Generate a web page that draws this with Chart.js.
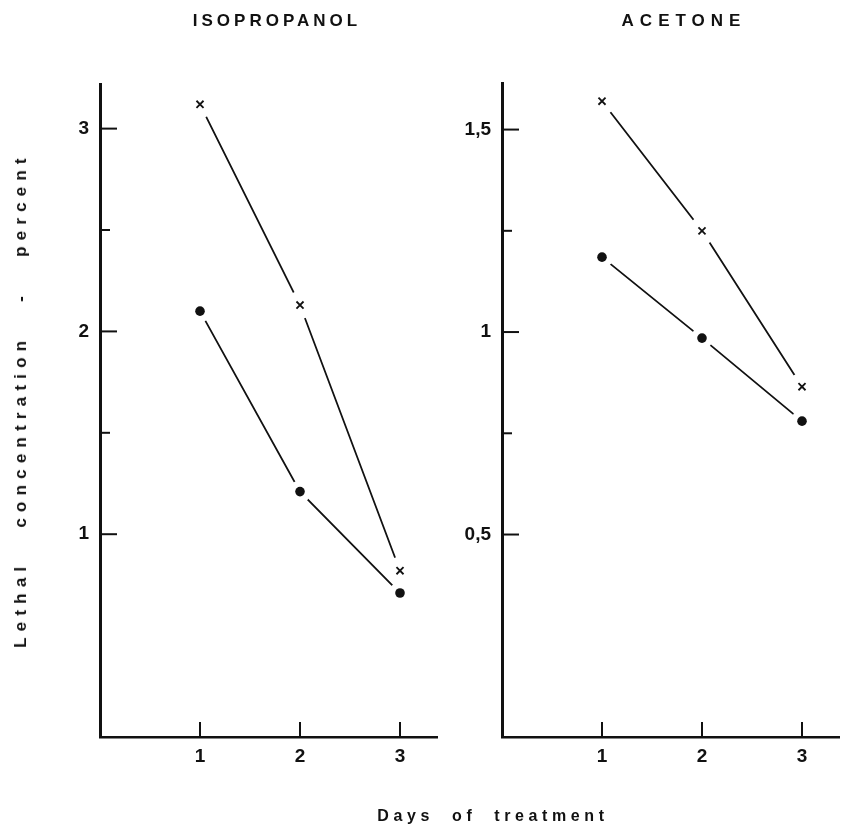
<!DOCTYPE html>
<html>
<head>
<meta charset="utf-8">
<script src="https://cdn.jsdelivr.net/npm/chart.js@4.4.1/dist/chart.umd.min.js"></script>
<style>
  body { margin: 0; background: #fff; }
  #page { position: relative; width: 841px; height: 829px; overflow: hidden; background: #fff;
          font-family: "Liberation Sans", Arial, sans-serif; font-weight: bold; color: #111; }
  canvas { position: absolute; top: 0; }
  #leftCanvas { left: 0; }
  #rightCanvas { left: 450px; }
  .txt { position: absolute; white-space: nowrap; transform: translate(-50%, -50%); }
  .ttl { font-size: 17px; letter-spacing: 4px; }
  #t2 { letter-spacing: 6px; }
  #ylab { font-size: 17px; letter-spacing: 6.2px; word-spacing: 22px; transform: translate(-50%, -50%) rotate(-90deg); }
  #xlab { font-size: 16px; letter-spacing: 4.6px; word-spacing: 9px; }
</style>
</head>
<body>
<div id="page">
  <canvas id="leftCanvas" width="450" height="829"></canvas>
  <canvas id="rightCanvas" width="391" height="829"></canvas>
  <div class="txt ttl" id="t1" style="left:277px;top:21px">ISOPROPANOL</div>
  <div class="txt ttl" id="t2" style="left:684px;top:21px">ACETONE</div>
  <div class="txt" id="ylab" style="left:21px;top:400px">Lethal concentration - percent</div>
  <div class="txt" id="xlab" style="left:493px;top:816px">Days of treatment</div>
</div>
<script>
// data
const days = [1, 2, 3];
const isoCross = [3.12, 2.13, 0.82];
const isoDot = [2.10, 1.21, 0.71];
const aceCross = [1.57, 1.25, 0.865];
const aceDot = [1.185, 0.985, 0.78];

const xTicks = [1, 2, 3];
const isoYTicks = [1, 1.5, 2, 2.5, 3];
const isoYLabels = [1, 2, 3];
const aceYTicks = [0.5, 0.75, 1, 1.25, 1.5];
const aceYLabels = [0.5, 1, 1.5];

const ink = '#111';
const tickFont = { family: '"Liberation Sans Narrow", "Liberation Sans", Arial, sans-serif', size: 19, weight: 'bold' };

function pts(vals) {
    return days.map((d, i) => ({ x: d, y: vals[i] }));
}

// tick marks drawn inside the plot, labelled ones longer
const innerTicks = {
    id: 'innerTicks',
    afterDraw(chart) {
        const ctx = chart.ctx, a = chart.chartArea;
        const xs = chart.scales.x, ys = chart.scales.y;
        ctx.save();
        ctx.strokeStyle = ink;
        ctx.lineWidth = 2;
        ys.ticks.forEach(t => {
            const py = ys.getPixelForValue(t.value);
            const len = t.label ? 17 : 10;
            ctx.beginPath();
            ctx.moveTo(a.left, py);
            ctx.lineTo(a.left + len, py);
            ctx.stroke();
        });
        xs.ticks.forEach(t => {
            const px = xs.getPixelForValue(t.value);
            ctx.beginPath();
            ctx.moveTo(px, a.bottom);
            ctx.lineTo(px, a.bottom - 15);
            ctx.stroke();
        });
        ctx.restore();
    }
};

function makeChart(id, crossVals, dotVals, yTicks, yLabels, yMax, pad, yWidth) {
    const lineDs = (vals) => ({
        data: pts(vals), borderColor: ink, borderWidth: 1.8,
        pointRadius: 0, fill: false, tension: 0, order: 3
    });
    const maskDs = (vals, r) => ({
        data: pts(vals), showLine: false, pointRadius: r, pointHoverRadius: r,
        pointBackgroundColor: '#fff', pointBorderWidth: 0, order: 2
    });
    return new Chart(document.getElementById(id), {
        type: 'line',
        data: {
            datasets: [
                lineDs(crossVals),
                lineDs(dotVals),
                maskDs(crossVals, 14),
                maskDs(dotVals, 11),
                {
                    data: pts(crossVals), showLine: false, pointStyle: 'crossRot',
                    pointRadius: 5, pointBorderColor: ink, pointBorderWidth: 1.8, order: 1
                },
                {
                    data: pts(dotVals), showLine: false, pointStyle: 'circle',
                    pointRadius: 4.8, pointBackgroundColor: ink, pointBorderColor: ink,
                    pointBorderWidth: 0, order: 1
                }
            ]
        },
        options: {
            responsive: false,
            animation: false,
            events: [],
            layout: { padding: pad, autoPadding: false },
            plugins: { legend: { display: false }, tooltip: { enabled: false } },
            scales: {
                x: {
                    type: 'linear', min: 0, max: 3.37,
                    afterBuildTicks: (s) => { s.ticks = xTicks.map(v => ({ value: v })); },
                    afterFit: (s) => { s.height = 40; s.paddingLeft = 0; s.paddingRight = 0; },
                    grid: { display: false, drawTicks: false },
                    border: { display: true, color: ink, width: 2.5 },
                    ticks: { color: ink, font: tickFont, padding: 8, autoSkip: false, maxRotation: 0,
                             callback: (v) => String(v) }
                },
                y: {
                    type: 'linear', min: 0, max: yMax,
                    afterBuildTicks: (s) => { s.ticks = yTicks.map(v => ({ value: v })); },
                    afterFit: (s) => { s.width = yWidth; },
                    grid: { display: false, drawTicks: false },
                    border: { display: true, color: ink, width: 3 },
                    ticks: { color: ink, font: tickFont, padding: 11, autoSkip: false,
                             callback: (v) => yLabels.includes(v) ? String(v).replace('.', ',') : '' }
                }
            }
        },
        plugins: [innerTicks]
    });
}

makeChart('leftCanvas', isoCross, isoDot, isoYTicks, isoYLabels, 3.22,
    { top: 84, right: 13, bottom: 52, left: 0 }, 100);
makeChart('rightCanvas', aceCross, aceDot, aceYTicks, aceYLabels, 1.615,
    { top: 83, right: 2, bottom: 52, left: 0 }, 52);
</script>
</body>
</html>
